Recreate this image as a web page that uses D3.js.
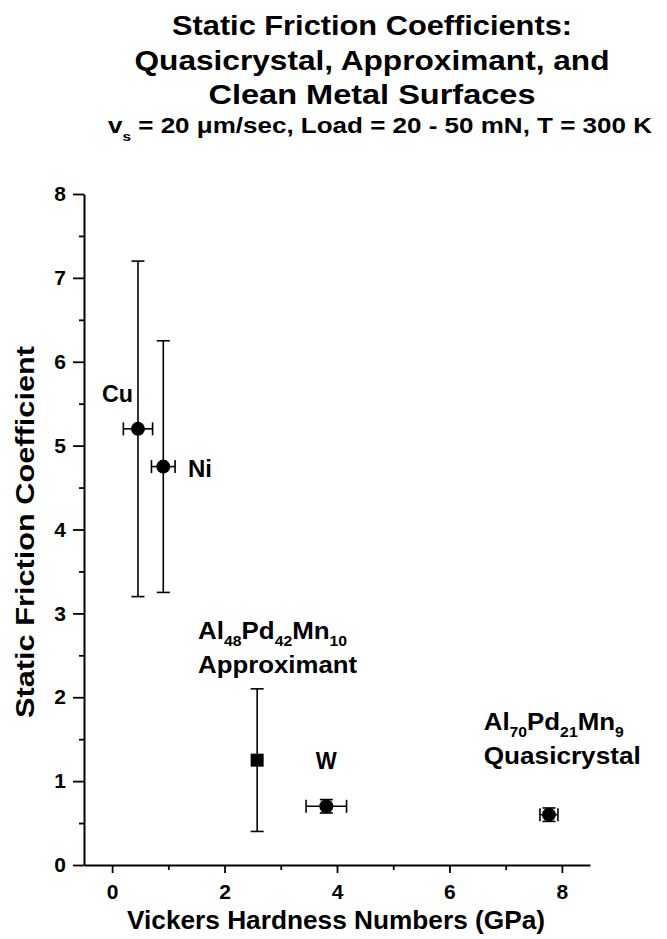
<!DOCTYPE html>
<html>
<head>
<meta charset="utf-8">
<script src="https://cdn.jsdelivr.net/npm/d3@7"></script>
<style>
  body { margin: 0; background: #fff; }
  svg { display: block; font-family: "Liberation Sans", Arial, sans-serif; font-weight: bold; }
</style>
</head>
<body>
<svg id="chart"></svg>
<script>
// Data
const materials = ["Cu", "Ni", "Al48Pd42Mn10", "W", "Al70Pd21Mn9"];
const hardness = [0.46, 0.91, 2.58, 3.81, 7.77];          // GPa
const hardnessErr = [0.26, 0.21, 0, 0.36, 0.16];
const friction = [5.2, 4.75, 1.25, 0.7, 0.6];
const frictionLow = [3.2, 3.25, 0.4, 0.62, 0.52];
const frictionHigh = [7.2, 6.25, 2.1, 0.78, 0.68];
const markerShape = ["circle", "circle", "square", "circle", "circle"];

const xTicks = [0, 2, 4, 6, 8];
const xMinorTicks = [1, 3, 5, 7];
const yTicks = [0, 1, 2, 3, 4, 5, 6, 7, 8];
const yMinorTicks = [0.5, 1.5, 2.5, 3.5, 4.5, 5.5, 6.5, 7.5];

const titleLines = [
  "Static Friction Coefficients:",
  "Quasicrystal, Approximant, and",
  "Clean Metal Surfaces"
];
const xLabel = "Vickers Hardness Numbers (GPa)";
const yLabel = "Static Friction Coefficient";

// annotation text pieces: [text, isSubscript]
const annotations = [
  { lines: [[["Cu", 0]]], at: [-0.18, 5.52], len: [31] },
  { lines: [[["Ni", 0]]], at: [1.35, 4.62], len: [24] },
  { lines: [[["Al", 0], ["48", 1], ["Pd", 0], ["42", 1], ["Mn", 0], ["10", 1]], [["Approximant", 0]]],
    at: [1.53, 2.7], len: [149, 159] },
  { lines: [[["W", 0]]], at: [3.62, 1.14], len: [21] },
  { lines: [[["Al", 0], ["70", 1], ["Pd", 0], ["21", 1], ["Mn", 0], ["9", 1]], [["Quasicrystal", 0]]],
    at: [6.61, 1.61], len: [140, 157] }
];

const width = 667, height = 939;
const svg = d3.select("#chart").attr("width", width).attr("height", height);

const x = d3.scaleLinear().domain([-0.5, 8.5]).range([84, 590]);
const y = d3.scaleLinear().domain([0, 8]).range([865, 194]);

// Title
svg.selectAll(".title")
  .data(titleLines)
  .enter()
  .append("text")
  .attr("class", "title")
  .attr("x", 372)
  .attr("y", (d, i) => 35 + i * 34.5)
  .attr("text-anchor", "middle")
  .attr("textLength", (d, i) => [400, 475, 327][i])
  .attr("lengthAdjust", "spacingAndGlyphs")
  .style("font-size", "28px")
  .text(d => d);

// Subtitle
const sub = svg.append("text")
  .attr("x", 108)
  .attr("y", 133)
  .attr("textLength", 544)
  .attr("lengthAdjust", "spacingAndGlyphs")
  .style("font-size", "22px");
sub.append("tspan").text("v");
sub.append("tspan").attr("dy", 8).style("font-size", "13px").text("s");
sub.append("tspan").attr("dy", -8).text(" = 20 \u03bcm/sec, Load = 20 - 50 mN, T = 300 K");

// Axes
svg.append("g")
  .attr("transform", `translate(0,${y(0)})`)
  .call(d3.axisBottom(x).tickValues(xTicks).tickSize(8).tickSizeOuter(0).tickPadding(11));
svg.append("g")
  .attr("transform", `translate(0,${y(0)})`)
  .call(d3.axisBottom(x).tickValues(xMinorTicks).tickSize(5).tickSizeOuter(0).tickFormat(""))
  .select(".domain").remove();

svg.append("g")
  .attr("transform", `translate(${x(-0.5)},0)`)
  .call(d3.axisLeft(y).tickValues(yTicks).tickSize(11).tickSizeOuter(0).tickPadding(7));
svg.append("g")
  .attr("transform", `translate(${x(-0.5)},0)`)
  .call(d3.axisLeft(y).tickValues(yMinorTicks).tickSize(5).tickSizeOuter(0).tickFormat(""))
  .select(".domain").remove();

svg.selectAll(".domain").attr("stroke-width", 2);
svg.selectAll(".tick line").attr("stroke-width", 1.8);
svg.selectAll(".tick text")
  .attr("font-family", "Liberation Sans, Arial, sans-serif")
  .attr("font-weight", "bold")
  .style("font-size", "21px")
  .attr("fill", "#000");

// Axis labels
svg.append("text")
  .attr("x", 336)
  .attr("y", 929)
  .attr("text-anchor", "middle")
  .attr("textLength", 418)
  .attr("lengthAdjust", "spacingAndGlyphs")
  .style("font-size", "25px")
  .text(xLabel);

svg.append("text")
  .attr("transform", "translate(34,532) rotate(-90)")
  .attr("text-anchor", "middle")
  .attr("textLength", 372)
  .attr("lengthAdjust", "spacingAndGlyphs")
  .style("font-size", "26px")
  .text(yLabel);

// Error bars
const points = materials.map((m, i) => ({
  name: m, hx: hardness[i], hErr: hardnessErr[i], f: friction[i],
  lo: frictionLow[i], hi: frictionHigh[i], shape: markerShape[i]
}));
const cap = 6.5;
const bars = svg.append("g").attr("stroke", "#000").attr("stroke-width", 1.6);

points.forEach(d => {
  bars.append("line")
    .attr("x1", x(d.hx)).attr("x2", x(d.hx))
    .attr("y1", y(d.lo)).attr("y2", y(d.hi));
  [d.lo, d.hi].forEach(v => {
    bars.append("line")
      .attr("x1", x(d.hx) - cap).attr("x2", x(d.hx) + cap)
      .attr("y1", y(v)).attr("y2", y(v));
  });
  if (d.hErr > 0) {
    bars.append("line")
      .attr("x1", x(d.hx - d.hErr)).attr("x2", x(d.hx + d.hErr))
      .attr("y1", y(d.f)).attr("y2", y(d.f));
    [d.hx - d.hErr, d.hx + d.hErr].forEach(v => {
      bars.append("line")
        .attr("x1", x(v)).attr("x2", x(v))
        .attr("y1", y(d.f) - cap).attr("y2", y(d.f) + cap);
    });
  }
});

// Markers
svg.selectAll(".pt")
  .data(points.filter(d => d.shape === "circle"))
  .enter()
  .append("circle")
  .attr("class", "pt")
  .attr("cx", d => x(d.hx))
  .attr("cy", d => y(d.f))
  .attr("r", 7)
  .attr("fill", "#000");

svg.selectAll(".sq")
  .data(points.filter(d => d.shape === "square"))
  .enter()
  .append("rect")
  .attr("class", "sq")
  .attr("x", d => x(d.hx) - 6.5)
  .attr("y", d => y(d.f) - 6.5)
  .attr("width", 13)
  .attr("height", 13)
  .attr("fill", "#000");

// Annotations
annotations.forEach(a => {
  a.lines.forEach((parts, li) => {
    const t = svg.append("text")
      .attr("x", x(a.at[0]))
      .attr("y", y(a.at[1]) + li * 34)
      .attr("textLength", a.len[li])
      .attr("lengthAdjust", "spacingAndGlyphs")
      .style("font-size", "23px");
    let shifted = false;
    parts.forEach(([txt, isSub]) => {
      const ts = t.append("tspan").text(txt);
      if (isSub && !shifted) { ts.attr("dy", 7); shifted = true; }
      if (!isSub && shifted) { ts.attr("dy", -7); shifted = false; }
      if (isSub) ts.style("font-size", "14px");
    });
  });
});
</script>
</body>
</html>
